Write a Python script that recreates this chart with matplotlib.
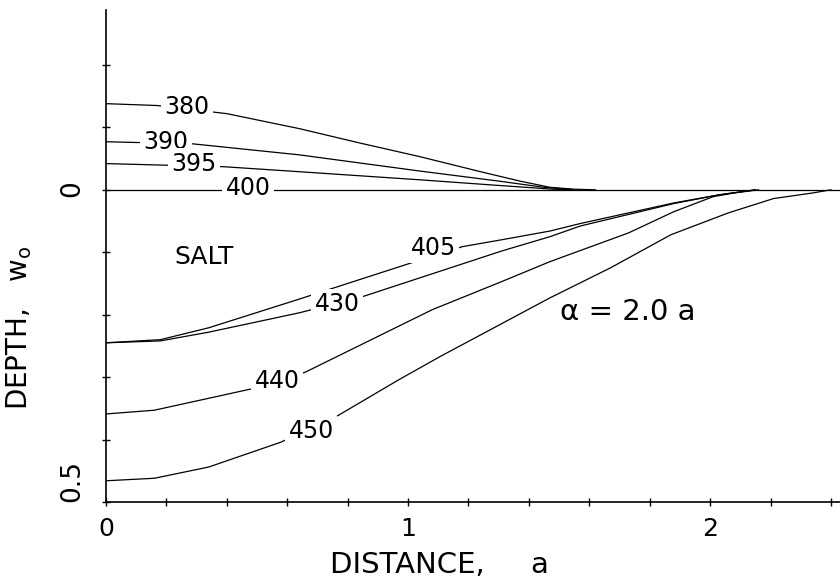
import numpy as np
import matplotlib.pyplot as plt
from matplotlib.ticker import FixedLocator, MultipleLocator

# Salt surface profiles, depth w0 against distance (both in units of a)
x_380 = [0, 0.17, 0.40, 0.64, 0.84, 1.04, 1.24, 1.37, 1.47, 1.55, 1.62]
w_380 = [-0.138, -0.135, -0.122, -0.098, -0.075, -0.053, -0.029, -0.014, -0.004, -0.001, 0]

x_390 = [0, 0.17, 0.28, 0.64, 1.04, 1.30, 1.45, 1.55]
w_390 = [-0.077, -0.075, -0.074, -0.056, -0.030, -0.014, -0.004, 0]

x_395 = [0, 0.39, 0.64, 1.04, 1.30, 1.48, 1.55]
w_395 = [-0.042, -0.037, -0.029, -0.016, -0.007, -0.001, 0]

x_400 = [0, 2.43]
w_400 = [0, 0]

x_405 = [0, 0.18, 0.34, 0.64, 1.03, 1.18, 1.31, 1.47, 1.57, 1.88, 2.03, 2.15]
w_405 = [0.245, 0.240, 0.221, 0.175, 0.114, 0.091, 0.080, 0.066, 0.054, 0.021, 0.008, 0]

x_430 = [0, 0.18, 0.34, 0.64, 0.85, 1.31, 1.47, 1.57, 1.88, 2.03, 2.15]
w_430 = [0.245, 0.242, 0.228, 0.197, 0.171, 0.098, 0.075, 0.058, 0.022, 0.008, 0]

x_440 = [0, 0.16, 0.48, 0.66, 1.08, 1.31, 1.47, 1.73, 1.88, 2.01, 2.08, 2.16]
w_440 = [0.359, 0.353, 0.319, 0.292, 0.192, 0.147, 0.115, 0.069, 0.035, 0.011, 0.005, 0]

x_450 = [0, 0.16, 0.34, 0.58, 0.77, 0.97, 1.11, 1.47, 1.67, 1.87, 2.06, 2.21, 2.34, 2.40]
w_450 = [0.466, 0.462, 0.444, 0.404, 0.361, 0.304, 0.266, 0.173, 0.125, 0.072, 0.037, 0.014, 0.005, 0]

kurver = [(x_380, w_380), (x_390, w_390), (x_395, w_395), (x_400, w_400),
          (x_405, w_405), (x_430, w_430), (x_440, w_440), (x_450, w_450)]

# curve labels and where they sit on the curves
etiketter = ["380", "390", "395", "400", "405", "430", "440", "450"]
etikett_x = [0.268, 0.199, 0.291, 0.470, 1.083, 0.765, 0.566, 0.679]
etikett_w = [-0.133, -0.077, -0.042, -0.003, 0.093, 0.183, 0.306, 0.386]

plt.rcParams['font.family'] = ['DejaVu Sans']

fig = plt.figure(figsize=(8.4, 5.82), dpi=100)
ax = fig.add_axes([106 / 840, 1 - 502 / 582, 734 / 840, 492 / 582])

for xs, ws in kurver:
    ax.plot(xs, ws, color='black', lw=0.9)

# labels break the lines with a white box
for tekst, lx, lw_ in zip(etiketter, etikett_x, etikett_w):
    ax.text(lx, lw_, tekst, fontsize=17, ha='center', va='center',
            bbox=dict(boxstyle='square,pad=0.15', fc='white', ec='none'))

ax.text(0.325, 0.107, "SALT", fontsize=18, ha='center', va='center')
ax.text(1.728, 0.196, "α = 2.0 a", fontsize=21, ha='center', va='center')

ax.set_xlim(0, 2.43)
ax.set_ylim(0.5, -0.288)

ax.spines['top'].set_visible(False)
ax.spines['right'].set_visible(False)
for s in ('left', 'bottom'):
    ax.spines[s].set_linewidth(1.2)

ax.xaxis.set_major_locator(FixedLocator([0, 1, 2]))
ax.xaxis.set_minor_locator(MultipleLocator(0.2))
ax.set_xticklabels(["0", "1", "2"])
ax.yaxis.set_major_locator(FixedLocator([0, 0.5]))
ax.yaxis.set_minor_locator(FixedLocator([-0.2, -0.1, 0.1, 0.2, 0.3, 0.4]))
ax.set_yticklabels(["0", "0.5"])

ax.tick_params(which='both', direction='inout', length=6, width=1.0, color='black')
ax.tick_params(axis='x', labelsize=18, pad=8)
ax.tick_params(axis='y', labelsize=19, pad=12, labelrotation=90)
ax.get_yticklabels()[1].set_va('bottom')

ax.set_xlabel("DISTANCE,     a", fontsize=21, va='center')
ax.xaxis.set_label_coords(0.454, -0.128)
ax.set_ylabel("DEPTH,   w$_\\mathregular{o}$", fontsize=20, va='center')
ax.yaxis.set_label_coords(-0.118, 0.354)

fig.savefig("out.png", dpi=100)
